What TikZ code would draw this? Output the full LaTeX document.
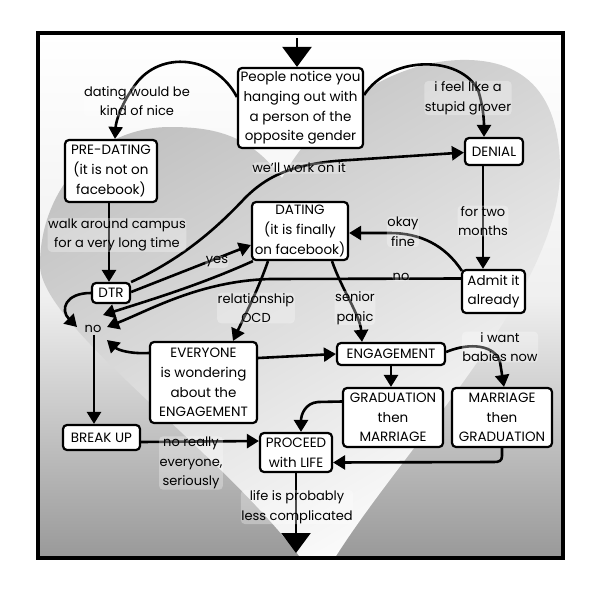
\documentclass[tikz,border=0pt]{standalone}
\usepackage{fontspec}
\setmainfont{Poppins}
\usetikzlibrary{arrows.meta,calc}
\begin{document}
\begin{tikzpicture}[x=1pt,y=-1pt,
  txt/.style={font=\fontsize{13}{19.7}\selectfont},
  box/.style={font=\fontsize{13.5}{19.7}\selectfont,draw,line width=2.2pt,rounded corners=4pt,fill=white,align=center,inner sep=1pt},
  lbl/.style={txt,align=center,inner sep=0.5pt,fill=white,fill opacity=0.3,text opacity=1,rounded corners=4pt},
  con/.style={line width=2.6pt,-{Triangle[length=12pt,width=14pt]}},
  big/.style={line width=2.6pt,-{Triangle[length=20pt,width=29pt]}}]
\useasboundingbox (0,0) rectangle (600,600);
\def\heartpath{(282,178) .. controls (250,135) and (215,127) .. (170,127) .. controls (95,127) and (40,190) .. (40,265) .. controls (40,330) and (250,470) .. (319,585) .. controls (380,470) and (560,300) .. (560,170) .. controls (560,100) and (530,58) .. (460,60) .. controls (390,62) and (320,110) .. (282,178) -- cycle}
% background
\fill[white] (0,0) rectangle (600,600);
\begin{scope}
  \clip (38,33) rectangle (563,558);
  \shade[top color=white, bottom color=black!40, middle color=black!6] (38,33) rectangle (563,558);
  \shade[top color=black!25, bottom color=white, shading angle=30] \heartpath;
\end{scope}
\draw[line width=4pt] (38,33) rectangle (563,558);

% nodes
\node[box,minimum width=125pt,minimum height=80pt] (people) at (300.5,108) {People notice you\\hanging out with\\a person of the\\opposite gender};
\node[box,minimum width=92pt,minimum height=62pt] (pre) at (111,171) {PRE-DATING\\(it is not on\\facebook)};
\node[box,minimum width=58pt,minimum height=27pt] (denial) at (494,151.5) {DENIAL};
\node[box,minimum width=96pt,minimum height=58pt] (dating) at (300,231) {DATING\\(it is finally\\on facebook)};
\node[box,minimum width=38pt,minimum height=20pt] (dtr) at (111,293) {DTR};
\node[box,minimum width=63pt,minimum height=43pt] (admit) at (493.5,291.5) {Admit it\\already};
\node[txt,inner sep=2pt] (no) at (93,329) {no};
\node[box,minimum width=107pt,minimum height=81pt] (every) at (203.5,382.5) {EVERYONE\\is wondering\\about the\\ENGAGEMENT};
\node[box,minimum width=108pt,minimum height=22pt] (eng) at (391,354) {ENGAGEMENT};
\node[box,minimum width=100pt,minimum height=59pt] (gtm) at (393,417.5) {GRADUATION\\then\\MARRIAGE};
\node[box,minimum width=100pt,minimum height=59pt] (mtg) at (502,417.5) {MARRIAGE\\then\\GRADUATION};
\node[box,minimum width=77pt,minimum height=25pt] (brk) at (101.5,437.5) {BREAK UP};
\node[box,minimum width=72pt,minimum height=39pt] (proc) at (296,452.5) {PROCEED\\with LIFE};
\coordinate (top) at (297,38);
\coordinate (bot) at (295,553);

% connectors
\draw[big] (top) -- (top |- people.north);
\draw[con] ($(people.west)+(0,-11)$) .. controls (215,55) and (160,50) .. (135,85) .. controls (122,103) and (116,120) .. ($(pre.north)+(4,0)$);
\draw[con] ($(people.east)+(0,-13)$) .. controls (390,55) and (460,55) .. (478,90) .. controls (483,105) and (484,120) .. ($(denial.north)+(-10,0)$);
\draw[con] ($(denial.south)+(-11,0)$) -- ($(admit.north)+(-10.5,0)$);
\draw[con] ($(admit.north west)+(1,2)$) .. controls (445,245) and (420,233) .. (390,233) -- ($(dating.east)+(0,2)$);
\draw[con] ($(admit.west)+(0,-13)$) -- (270,279) .. controls (200,281) and (150,310) .. ($(no)+(14,-2)$);
\draw[con] ($(dating.south west)+(2,0)$) .. controls (200,285) and (150,300) .. ($(no)+(10,-14)$);
\draw[con] ($(dtr.east)+(0,-11)$) .. controls (180,260) and (215,230) .. (245,198) .. controls (265,178) and (290,163) .. (350,160) -- ($(denial.west)+(0,1)$);
\draw[con] ($(dtr.east)+(0,-1)$) -- ($(dating.west)+(0,14)$);
\draw[con] (dtr.west) .. controls (65,293) and (60,310) .. ($(no)+(-16,-2)$);
\draw[con] ($(no.south)+(1,0)$) -- ($(brk.north)+(-7.5,0)$);
\draw[con] ($(every.west)+(0,-29.5)$) .. controls (130,354) and (118,350) .. ($(no)+(14,11)$);
\draw[con] ($(dating.south)+(-32,0)$) .. controls (258,290) and (245,315) .. ($(every.north)+(29.5,0)$);
\draw[con] ($(dating.south)+(32,0)$) .. controls (342,290) and (360,315) .. ($(eng.north)+(-29,0)$);
\draw[con] ($(every.east)+(0,-24.5)$) -- (eng.west);
\draw[con] ($(eng.east)+(0,-2)$) .. controls (470,342) and (495,345) .. (500,362) -- ($(mtg.north)+(2,0)$);
\draw[con] (eng.south) -- (eng.south |- gtm.north);
\draw[con] ($(gtm.west)+(0,-16)$) -- (318,402) .. controls (305,403) and (301,415) .. ($(proc.north)+(5,0)$);
\draw[con] (mtg.south) -- (502,456) .. controls (502,461) and (499,462) .. (494,462) -- ($(proc.east)+(0,10)$);
\draw[con] ($(brk.east)+(0,4.5)$) -- ($(proc.west)+(0,-11.5)$);
\draw[big] (proc.south) -- (proc.south |- bot);
\draw[con] ($(pre.south)+(-2,0)$) -- ($(dtr.north)+(-2,0)$);

% labels
\node[lbl] (l1) at (137,101) {dating would be\\kind of nice};
\node[lbl] (l2) at (468,98) {i feel like a\\stupid grover};
\node[lbl] (l3) at (299,168) {we'll work on it};
\node[lbl] (l4) at (117,235) {walk around campus\\for a very long time};
\node[lbl] (l5) at (483,221) {for two\\months};
\node[lbl] (l6) at (403,232) {okay\\fine};
\node[lbl] (l7) at (401,277) {no};
\node[lbl] (l8) at (217,262) {yes};
\node[lbl] (l9) at (256,308) {relationship\\OCD};
\node[lbl] (l10) at (355,308) {senior\\panic};
\node[lbl] (l11) at (500,347) {i want\\babies now};
\node[lbl] (l12) at (191,463) {no really\\everyone,\\seriously};
\node[lbl] (l13) at (297,507) {life is probably\\less complicated};
\end{tikzpicture}
\end{document}
